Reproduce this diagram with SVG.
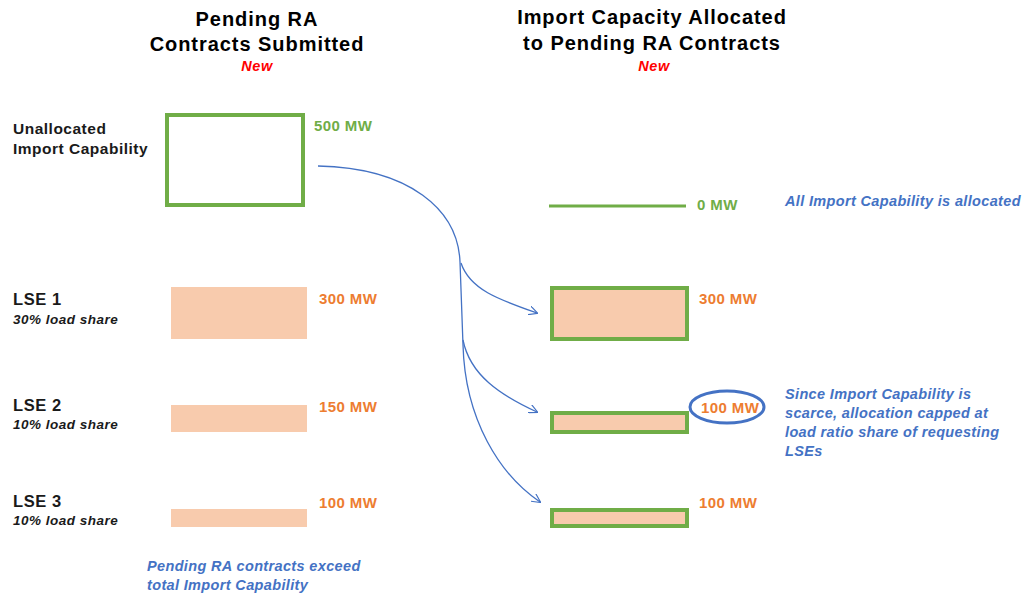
<svg xmlns="http://www.w3.org/2000/svg" width="1027" height="596" viewBox="0 0 1027 596">
<style>
text{font-family:"Liberation Sans",Arial,sans-serif;font-weight:bold}
.title{font-size:20px;fill:#000;text-anchor:middle;letter-spacing:0.95px}
.new{font-size:14.5px;fill:#FF0000;font-style:italic;text-anchor:middle;letter-spacing:0.6px}
.lbl{font-size:15.5px;fill:#1a1a1a;letter-spacing:0.5px}
.lse{font-size:16.5px;fill:#1a1a1a;letter-spacing:0.6px}
.sub{font-size:13.5px;fill:#1a1a1a;font-style:italic;letter-spacing:0.5px}
.mwg{font-size:15px;fill:#70AD47;letter-spacing:0.4px}
.mwo{font-size:15px;fill:#ED7D31;letter-spacing:0.4px}
.note{font-size:14.5px;fill:#4472C4;font-style:italic;letter-spacing:0.35px}
.gbox{fill:none;stroke:#70AD47;stroke-width:4}
.peach{fill:#F8CBAD}
.pbox{fill:#F8CBAD;stroke:#70AD47;stroke-width:4}
.conn{fill:none;stroke:#4472C4;stroke-width:1.3}
</style>
<defs>
<marker id="arr" viewBox="0 0 10 10" refX="9" refY="5" markerWidth="9" markerHeight="9" orient="auto" markerUnits="userSpaceOnUse">
<path d="M0,0 L10,5 L0,10" fill="none" stroke="#4472C4" stroke-width="1.3"/>
</marker>
</defs>
<g id="titles">
<text class="title" x="257" y="26">Pending RA</text>
<text class="title" x="257" y="51">Contracts Submitted</text>
<text class="new" x="257" y="71">New</text>
<text class="title" x="652" y="24">Import Capacity Allocated</text>
<text class="title" x="652" y="50">to Pending RA Contracts</text>
<text class="new" x="654" y="71">New</text>
</g>
<g id="unallocated">
<text class="lbl" x="13" y="134">Unallocated</text>
<text class="lbl" x="13" y="154">Import Capability</text>
<rect class="gbox" x="167" y="115" width="136" height="90"/>
<text class="mwg" x="314" y="131">500 MW</text>
</g>
<g id="lse1">
<text class="lse" x="13" y="305">LSE 1</text>
<text class="sub" x="13" y="324">30% load share</text>
<rect class="peach" x="171" y="287" width="136" height="52"/>
<text class="mwo" x="319" y="304">300 MW</text>
</g>
<g id="lse2">
<text class="lse" x="13" y="411">LSE 2</text>
<text class="sub" x="13" y="429">10% load share</text>
<rect class="peach" x="171" y="405" width="136" height="27"/>
<text class="mwo" x="319" y="412">150 MW</text>
</g>
<g id="lse3">
<text class="lse" x="13" y="507">LSE 3</text>
<text class="sub" x="13" y="525">10% load share</text>
<rect class="peach" x="171" y="509" width="136" height="18"/>
<text class="mwo" x="319" y="508">100 MW</text>
</g>
<g id="note-left">
<text class="note" x="147" y="571">Pending RA contracts exceed</text>
<text class="note" x="147" y="590">total Import Capability</text>
</g>
<g id="alloc-zero">
<line x1="549" y1="206" x2="686" y2="206" stroke="#70AD47" stroke-width="3"/>
<text class="mwg" x="697" y="210">0 MW</text>
<text class="note" x="785" y="206">All Import Capability is allocated</text>
</g>
<g id="alloc1">
<rect class="pbox" x="552" y="288" width="135" height="51"/>
<text class="mwo" x="699" y="304">300 MW</text>
</g>
<g id="alloc2">
<rect class="pbox" x="552" y="413" width="135" height="19"/>
<ellipse cx="727" cy="407" rx="37" ry="16" fill="none" stroke="#4472C4" stroke-width="3"/>
<text class="mwo" x="701" y="413">100 MW</text>
<text class="note" x="785" y="399">Since Import Capability is</text>
<text class="note" x="785" y="418">scarce, allocation capped at</text>
<text class="note" x="785" y="437">load ratio share of requesting</text>
<text class="note" x="785" y="456">LSEs</text>
</g>
<g id="alloc3">
<rect class="pbox" x="552" y="510" width="135" height="16"/>
<text class="mwo" x="699" y="508">100 MW</text>
</g>
<g id="connectors">
<path class="conn" d="M318,166 C410,168 458,210 460,262 C461,290 462,315 463,345"/>
<path class="conn" marker-end="url(#arr)" d="M461,263 C470,290 500,300 537,313"/>
<path class="conn" marker-end="url(#arr)" d="M463,340 C470,375 500,395 537,412"/>
<path class="conn" marker-end="url(#arr)" d="M463,345 C465,420 500,475 540,502"/>
</g>
</svg>
